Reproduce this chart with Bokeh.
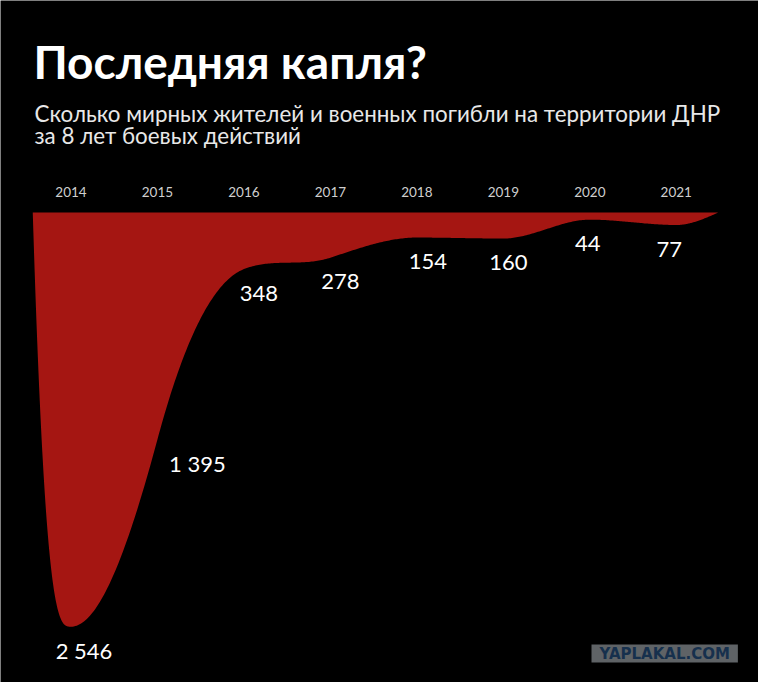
import numpy as np
from bokeh.core.properties import value
from bokeh.embed import file_html
from bokeh.models import ColumnDataSource, Label
from bokeh.plotting import figure
from bokeh.resources import INLINE

# данные: погибшие на территории ДНР по годам
years = [2014, 2015, 2016, 2017, 2018, 2019, 2020, 2021]
deaths = [2546, 1395, 348, 278, 154, 160, 44, 77]

title = "Последняя капля?"
subtitle_1 = "Сколько мирных жителей и военных погибли на территории ДНР"
subtitle_2 = "за 8 лет боевых действий"

# горизонтальные сдвиги подписей значений (px)
label_dx = [13, 40, 15, 10, 11, 5, -2, -7]

RED = "#a51612"
W, H = 758, 682


def smooth_curve(xs, ys, steps=60, start_k=3.0, end_k=1.5, spread=1.8):
    """Гладкая кривая через точки (монотонные касательные, как у d3, но мягче)."""
    xs = np.asarray(xs, dtype=float)
    ys = np.asarray(ys, dtype=float)
    h = np.diff(xs)
    s = np.diff(ys) / h
    t = np.zeros_like(ys)
    for k in range(1, len(xs) - 1):
        if s[k - 1] * s[k] > 0:
            pk = (s[k - 1] * h[k] + s[k] * h[k - 1]) / (h[k - 1] + h[k])
            t[k] = np.sign(s[k]) * min(3 * abs(s[k - 1]), 3 * abs(s[k]), spread * abs(pk))
    t[0] = start_k * s[0]
    t[-1] = end_k * s[-1]
    cx, cy = [], []
    for k in range(len(xs) - 1):
        u = np.linspace(0, 1, steps, endpoint=(k == len(xs) - 2))
        h00 = 2 * u**3 - 3 * u**2 + 1
        h10 = u**3 - 2 * u**2 + u
        h01 = -2 * u**3 + 3 * u**2
        h11 = u**3 - u**2
        cx.append(xs[k] + u * h[k])
        cy.append(h00 * ys[k] + h10 * h[k] * t[k] + h01 * ys[k + 1] + h11 * h[k] * t[k + 1])
    return np.concatenate(cx), np.concatenate(cy)


p = figure(
    width=W,
    height=H,
    x_range=(2013.185, 2021.951),
    y_range=(-2889, 1303),
    x_axis_location=None,
    y_axis_location=None,
    output_backend="svg",
    toolbar_location=None,
    min_border=0,
    background_fill_color="black",
    border_fill_color="black",
    outline_line_color=None,
)
p.grid.visible = False

# красная "капля"
px = [years[0] - 0.442] + years + [years[-1] + 0.487]
py = [0] + deaths + [0]
cx, cy = smooth_curve(px, py)
p.varea(x=cx, y1=np.zeros_like(cy), y2=-cy, fill_color=RED)

# годы над линией
years_src = ColumnDataSource(dict(x=years, y=[0] * len(years), text=[str(y) for y in years]))
p.text(x="x", y="y", text="text", source=years_src, y_offset=-20,
       text_align="center", text_baseline="middle",
       text_font=value("Lato"), text_font_size="13.5px", text_color="#cfcfcf")

# подписи значений
vals_src = ColumnDataSource(dict(
    x=years,
    y=[-d for d in deaths],
    text=[f"{d:,}".replace(",", " ") for d in deaths],
    dx=label_dx,
))
p.text(x="x", y="y", text="text", source=vals_src, x_offset="dx", y_offset=24,
       text_align="center", text_baseline="middle",
       text_font=value("Lato"), text_font_size="22px", text_color="white")

# заголовок и подзаголовок
p.add_layout(Label(x=33, y=621, x_units="screen", y_units="screen", text=title,
                   text_font="Lato", text_font_style="bold", text_font_size="46px",
                   text_color="white", text_baseline="alphabetic"))
p.add_layout(Label(x=34, y=569.5, x_units="screen", y_units="screen", text=subtitle_1,
                   text_font="Lato", text_font_size="22.4px",
                   text_color="#e8e8e8", text_baseline="alphabetic"))
p.add_layout(Label(x=34, y=547, x_units="screen", y_units="screen", text=subtitle_2,
                   text_font="Lato", text_font_size="22.4px",
                   text_color="#e8e8e8", text_baseline="alphabetic"))

# водяной знак
p.add_layout(Label(x=591, y=29, x_units="screen", y_units="screen", text="YAPLAKAL.COM",
                   text_font="DejaVu Sans", text_font_style="bold", text_font_size="15px",
                   text_color="#16304d", text_baseline="middle",
                   background_fill_color="#5f6366",
                   padding=dict(left=8, right=8, top=0, bottom=0)))

html = file_html(p, INLINE).replace("<body>", '<body style="background-color:#000000;">', 1)
open("out.html", "w").write(html)
